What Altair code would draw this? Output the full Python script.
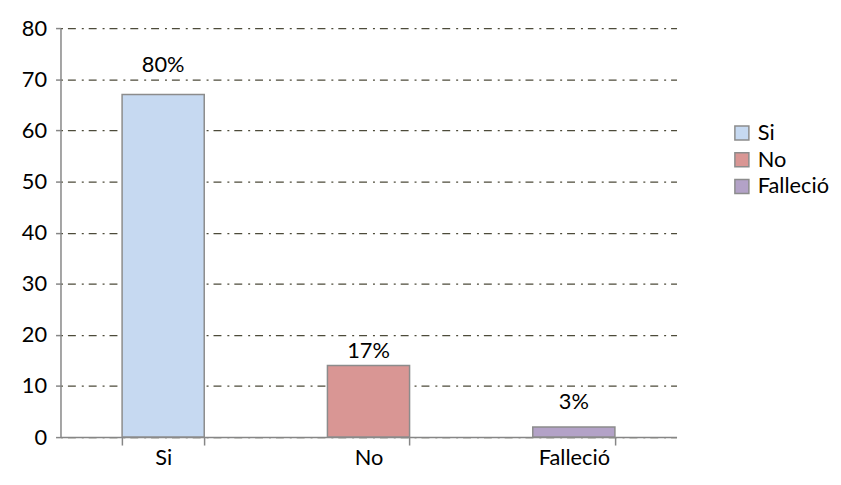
import altair as alt
import pandas as pd

categories = ["Si", "No", "Falleció"]
values = [67, 14, 2]
labels = ["80%", "17%", "3%"]
label_pos = [72.8, 16.9, 6.8]
colors = ["#c6d9f1", "#d99694", "#b3a2c7"]

df = pd.DataFrame({"cat": categories, "val": values, "lab": labels, "lpos": label_pos})

FONT = "Lato"
FS = 22

x = alt.X("cat:N", sort=categories, title=None,
          scale=alt.Scale(paddingInner=0.6, paddingOuter=0.3),
          axis=alt.Axis(labelAngle=0, tickBand="extent", domainColor="#868686",
                        tickColor="#868686", tickSize=8, labelPadding=3,
                        labelFontSize=FS, labelFont=FONT, labelColor="#000000",
                        grid=False, domainWidth=1.5, tickWidth=1.5))

bars = alt.Chart(df).mark_bar(stroke="#8c8c8c", strokeWidth=1.5).encode(
    x=x,
    y=alt.Y("val:Q", title=None,
            scale=alt.Scale(domain=[0, 80], nice=False),
            axis=alt.Axis(values=list(range(0, 81, 10)), domainColor="#868686",
                          tickColor="#868686", tickSize=5, labelPadding=9,
                          labelFontSize=FS, labelFont=FONT, labelColor="#000000",
                          grid=True, gridColor="#4d4b3a", gridDash=[2, 5, 8, 6],
                          gridWidth=1.3, domainWidth=1.5, tickWidth=1.5,
                          gridOpacity=1)),
    color=alt.Color("cat:N", sort=categories,
                    scale=alt.Scale(domain=categories, range=colors),
                    legend=alt.Legend(title=None, orient="none", legendX=677, legendY=95,
                                      symbolType="square", symbolSize=200,
                                      symbolStrokeColor="#8c8c8c", symbolStrokeWidth=1.5,
                                      labelFontSize=FS, labelFont=FONT, labelColor="#000000",
                                      rowPadding=5, labelOffset=5, labelLimit=200)),
)

text = alt.Chart(df).mark_text(fontSize=FS, font=FONT, color="#000000").encode(
    x=alt.X("cat:N", sort=categories),
    y=alt.Y("lpos:Q"),
    text="lab:N",
)

chart = (bars + text).properties(
    width=622, height=413,
    autosize=alt.AutoSizeParams(type="none"),
    padding={"left": 53, "top": 18, "right": 158, "bottom": 38},
).configure_view(stroke=None)

chart.save("out.html", embed_options={"renderer": "svg", "actions": False})
